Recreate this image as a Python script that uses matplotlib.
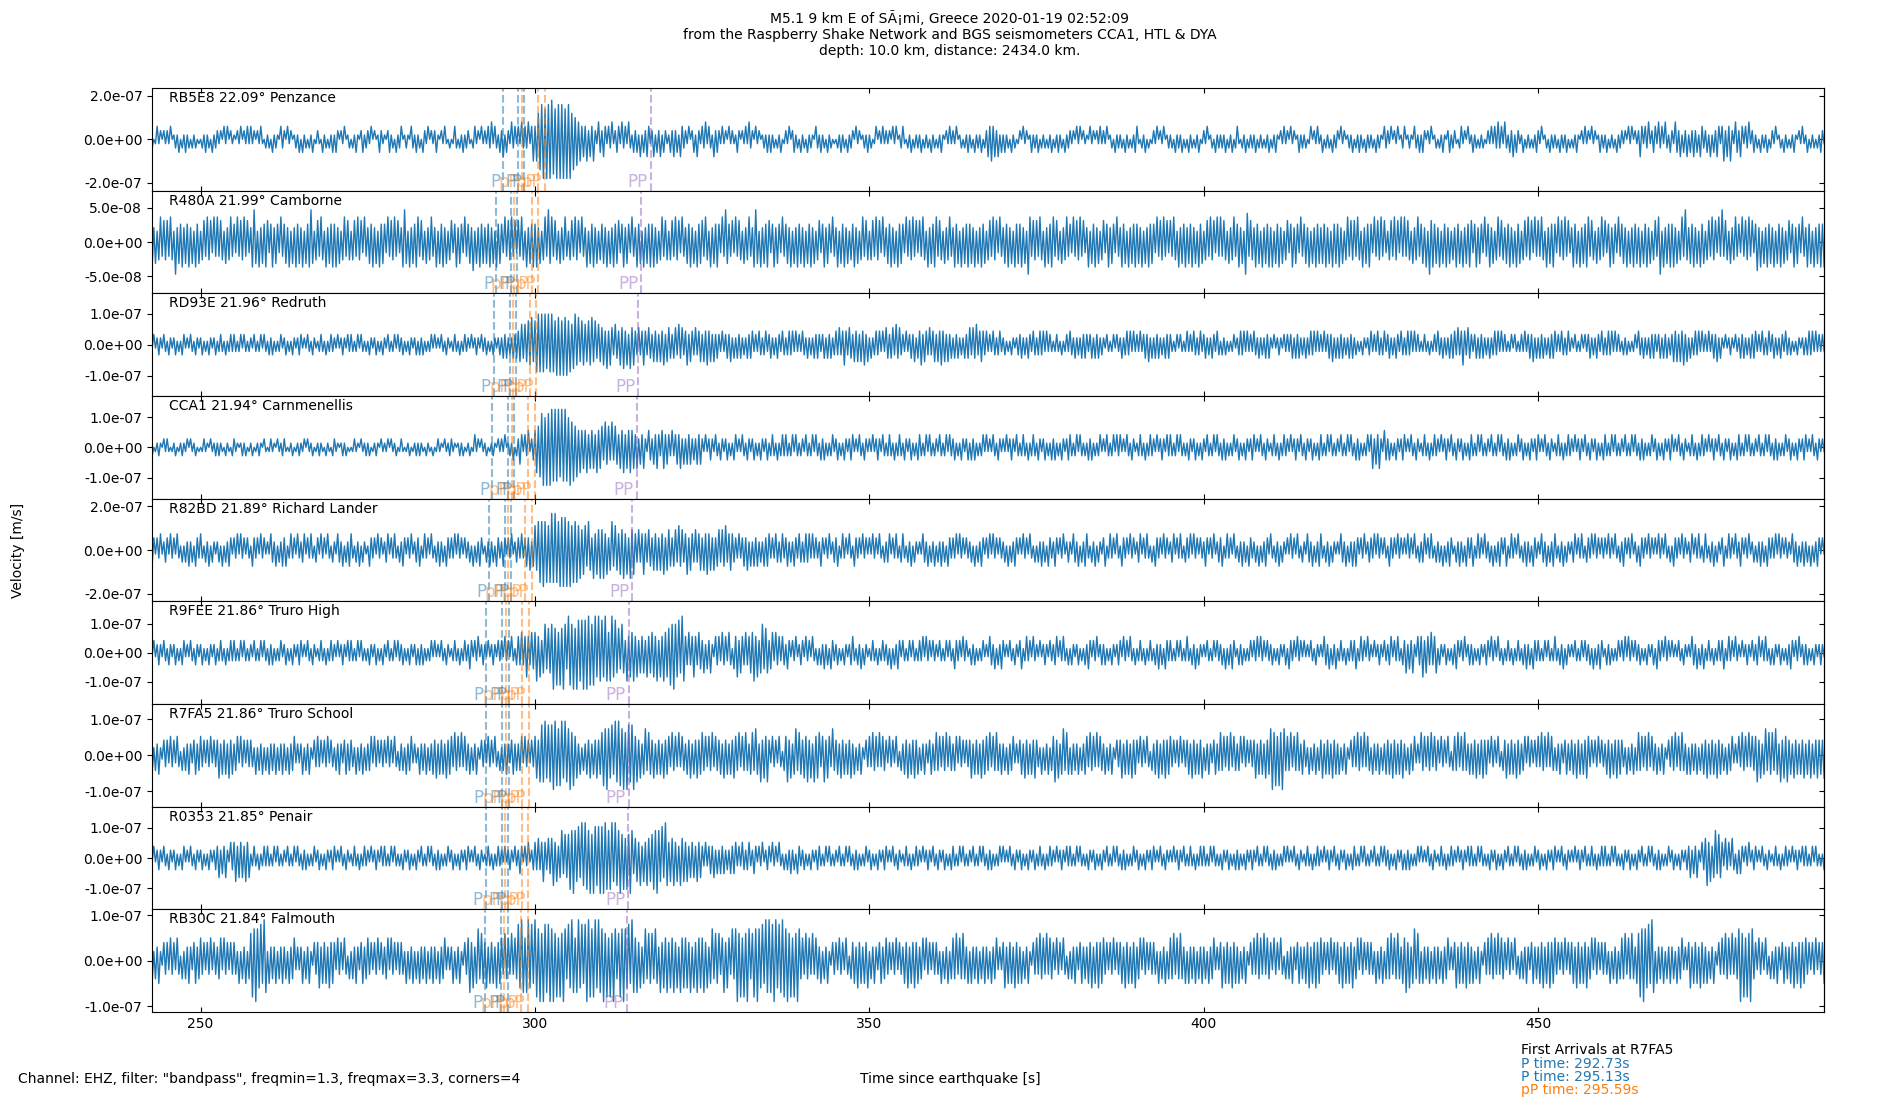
import numpy as np
import matplotlib
matplotlib.use('Agg')
import matplotlib.pyplot as plt
from matplotlib.ticker import FormatStrFormatter

# ---- stations, top to bottom ----
stations = ['RB5E8', 'R480A', 'RD93E', 'CCA1', 'R82BD', 'R9FEE', 'R7FA5', 'R0353', 'RB30C']
distances = [22.09, 21.99, 21.96, 21.94, 21.89, 21.86, 21.86, 21.85, 21.84]
places = ['Penzance', 'Camborne', 'Redruth', 'Carnmenellis', 'Richard Lander',
          'Truro High', 'Truro School', 'Penair', 'Falmouth']

# y range (+/-) and tick step of every panel [m/s]
ylims = [2.36e-7, 7.46e-8, 1.66e-7, 1.70e-7, 2.34e-7, 1.77e-7, 1.42e-7, 1.70e-7, 1.13e-7]
ysteps = [2e-7, 5e-8, 1e-7, 1e-7, 2e-7, 1e-7, 1e-7, 1e-7, 1e-7]

# theoretical arrivals [s since origin] for each station
phase_names = ['P', 'P', 'pP', 'P', 'pP', 'pP', 'PP']
arr_RB5E8 = [295.2, 297.5, 298.0, 298.4, 300.5, 301.5, 317.3]
arr_R480A = [294.2, 296.4, 296.9, 297.3, 299.5, 300.5, 315.9]
arr_RD93E = [293.8, 296.2, 296.7, 297.1, 299.2, 300.2, 315.4]
arr_CCA1 = [293.6, 296.0, 296.5, 296.9, 299.0, 300.0, 315.2]
arr_R82BD = [293.1, 295.5, 296.0, 296.4, 298.5, 299.5, 314.5]
arr_R9FEE = [292.73, 295.13, 295.59, 296.1, 298.1, 299.1, 314.0]
arr_R7FA5 = [292.73, 295.13, 295.59, 296.1, 298.1, 299.1, 314.0]
arr_R0353 = [292.6, 295.0, 295.5, 296.0, 298.0, 299.0, 313.9]
arr_RB30C = [292.5, 294.9, 295.4, 295.9, 297.9, 298.9, 313.7]
arrivals = [arr_RB5E8, arr_R480A, arr_RD93E, arr_CCA1, arr_R82BD,
            arr_R9FEE, arr_R7FA5, arr_R0353, arr_RB30C]

# waveforms: size of successive peaks/troughs, one every 0.25 s
# from t_start, one digit each, in multiples of the panel's unit. one line = 25 s
t_start = 242.5
dt = 0.25
units = [2.0e-8, 0.52e-8, 1.1e-8, 1.4e-8, 1.85e-8, 1.4e-8, 1.05e-8, 1.3e-8, 1.0e-8]

wf_RB5E8 = ("1201312021 2130121302 1312021201 0213120312 2120313021 1021302131 3120213102 1203121032 2031201213 0312021301"
            "2103120213 1320213012 0213102312 2130201321 1023120312 3012103213 1203213021 2310213102 0132021312 2102312031"
            "2132413213 2413214231 3142324135 3567897989 9879898979 8967564534 3524352143 2431324123 3142314213 2314132431"
            "2413241321 1324231432 2130231421 3241321423 2131203121 1320213142 2031201213 1312021301 2130231203 1203121032"
            "1312031201 0213120312 2031201213 1201302131 2120313012 3102130212 1302120312 0213102131 2130120213 1203121302"
            "2435342413 1312031201 2031201312 1302120213 0213120312 2120313021 1031202131 2130120312 1203120213 3102130201"
            "2130213012 1203121302 0312021301 2130120312 1213021302 3102130212 1302120213 0213102131 2031201312 1201302131"
            "1302120312 2031201213 0213120312 1203121032 2130213012 3012103213 1320213012 0213102312 2102312031 1312021201"
            "2131324231 4213241321 1302120213 2130120312 1203121302 0213102131 2031201312 1302120312 2120313021 2431324123"
            "3142314213 2143241324 1324231432 2314132431 3524352143 2431324123 1203121302 2130120312 0213102131 1302120213 2130")
wf_R480A = ("5746357465 6475394657 4657463756 3564756374 7465364574 5374657463 4796374657 6357465374 5647364756 4736579635"
            "6475374657 5746357465 3564756374 4657463756 5374657463 4796374657 7465364574 4736574635 6357465374 5648364756"
            "4657463756 5374657463 6475374657 5746357496 7465364574 3564756374 4736574635 5647364756 6357465374 4756374657"
            "5746357465 3564756374 4657463756 6475374657 5374965463 7465364574 4796374657 6357465374 5647364756 4736574635"
            "6357465374 4736574635 5746357465 3564756374 4657463756 5374657463 6475374657 7465364574 4756374657 5647364756"
            "3564756374 4657463756 5746397465 6475374657 7465364574 5374657463 4736574635 6357465374 4756374657 5647364756"
            "5374657463 6475374657 4657463756 3564756374 7465364574 5746398465 4756374657 4736574635 6357465374 5647364756"
            "4657463756 5746357465 6475374657 5374657463 3564756374 7465364574 5647396756 4736574635 4756374657 6357465374"
            "5746357465 4657463756 3564756374 6475374657 5374657463 4756374657 7465364574 6357465374 5647364756 4736574635"
            "6479374657 5746357495 4657463756 3564756374 9465364574 5374657463 5847364756 4736574635 6357465374 4756374657 5746")
wf_RD93E = ("2131232132 1321231213 3121321321 2312132123 1232131232 3212313212 2132123132 1323121231 2312132123 3121321321"
            "1232131232 2131232132 3212313212 1321231213 2132123132 2312132123 1323121231 3121321321 1232131232 2131232132"
            "2312132123 2434232434 4564657685 7898989798 9879897989 7867968576 6576857465 5647465364 4657463756 4353464354"
            "3545354635 5434536453 4635435345 3546453534 3242343524 2434232434 4232432342 3423243243 2343424232 4324232434"
            "3234243423 4353464354 3545354635 2423434242 5434536453 3242343524 4635435345 3546453534 2434232434 5354634543"
            "4232432342 2312132123 3423243243 2343424232 1232131232 4324232434 3234243423 2132123132 2423434242 3242343524"
            "2434232434 3212313212 4232432342 3423243243 1323121231 2343424232 4324232434 2131232132 3234243423 2423434242"
            "3242343524 2434232434 2312132123 4232432342 3423243243 2343424232 1232131232 4324232434 4353464354 3234243423"
            "2423434242 3212313212 3242343524 2434232434 4232432342 2132123132 3423243243 2343424232 1323121231 4324232434"
            "3234243423 3545354635 2423434242 3242343524 2131232132 2434232434 4232432342 3423243243 2312132123 2343424232 3242")
wf_CCA1 = ("1201121021 2101120112 1120211201 0121102112 1211021102 2110121201 1201121021 0121102112 2101120112 1120211201"
           "1211021102 2110121201 0121102112 1201121021 1120211201 2101120112 1211021102 0121102112 2110121201 1201312021"
           "1201121021 2130121302 2431324123 4657897989 9898979898 7968574645 4635453645 5364536354 3546354645 3524352143"
           "2435324534 3242343524 2434232434 2131232132 1321231213 3121321321 2312132123 1232131232 3212313212 2132123132"
           "1323121231 2312132123 3121321321 2131232132 1232131232 1321231213 3212313212 2132123132 2312132123 1323121231"
           "3121321321 2131232132 1232131232 1321231213 2312132123 3212313212 1323121231 2132123132 3121321321 1232131232"
           "2131232132 3212313212 1321231213 2132123132 1323121231 2312132123 3121321321 1232131232 2131232132 1321231213"
           "3212313212 2132123132 1323121231 3524352143 2312132123 3121321321 1232131232 2131232132 1321231213 3212313212"
           "2132123132 1323121231 2312132123 3121321321 1232131232 2131232132 1321231213 3212313212 2132123132 1323121231"
           "2312132123 3121321321 1232131232 2131232132 1321231213 3212313212 2132123132 1323121231 2312132123 3121321321 2131")
wf_R82BD = ("2431324123 3142314213 1324231432 4213241321 2314132431 3241423132 1432314231 2143241324 3412423142 2341324213"
            "3142314213 2143241324 4213241321 1432314231 2341324213 2431324123 3412423142 1324231432 3241423132 2314132431"
            "1324231432 2431324123 3242343524 6578797868 9898798989 7968786756 6475374657 5746357465 4657463756 4353464354"
            "3545354635 5434536453 4635435345 3546453534 5354634543 3242343524 2434232434 4232432342 3423243243 2343424232"
            "2431324123 3412423142 1432314231 3142314213 2341324213 4213241321 2143241324 1324231432 3241423132 2314132431"
            "3241423132 2314132431 3142314213 1324231432 2431324123 2143241324 4213241321 3412423142 1432314231 2341324213"
            "1432314231 2341324213 3241423132 2431324123 3412423142 1324231432 2314132431 4213241321 3142314213 2143241324"
            "4213241321 2143241324 2431324123 3241423132 1432314231 3142314213 2341324213 2314132431 1324231432 3412423142"
            "2314132431 3412423142 1324231432 2143241324 4213241321 2341324213 3241423132 3142314213 2431324123 1432314231"
            "3142314213 1432314231 2341324213 4213241321 3412423142 2431324123 1324231432 3241423132 2143241324 2314132431 3142")
wf_R9FEE = ("2131232132 1321231213 3121321321 2312132123 1232131232 3212313212 2132123132 1323121231 2312132123 3121321321"
            "1232131232 2131232132 3212313212 1321231213 2132123132 2312132123 1323121231 3121321321 1232131232 2431324123"
            "2131232132 3142314213 4353464354 5746357465 7968586974 9879698789 8998789697 8697579685 6475374657 4635453645"
            "5647364756 6879768597 4353464354 3524352143 4253425314 4635435345 5746357465 3452534243 2431324123 3142314213"
            "1324231432 2312132123 4213241321 1232131232 2314132431 3212313212 3241423132 2132123132 1432314231 1323121231"
            "2143241324 3121321321 3412423142 2131232132 2341324213 1321231213 2431324123 2312132123 3142314213 1232131232"
            "1324231432 3212313212 4213241321 2132123132 2314132431 1323121231 3241423132 2312132123 1432314231 3121321321"
            "2143241324 1232131232 3412423142 2131232132 2341324213 3524352143 4635435345 1321231213 2431324123 2312132123"
            "3142314213 1232131232 1324231432 3212313212 4213241321 2132123132 2314132431 1323121231 3241423132 2312132123"
            "1432314231 3121321321 2143241324 1232131232 3412423142 2131232132 2341324213 1321231213 2431324123 2312132123 2132")
wf_R7FA5 = ("3524352143 4253425314 2435324534 5342435243 4635453645 3452534243 4325243524 2534352435 3425345232 3524352143"
            "5342435243 2435324534 4325243524 3452534243 4253425314 3425345232 2534352435 4635453645 5364536354 3524352143"
            "4253425314 2435324534 3452534243 5647879687 8998789697 7968563524 3546354645 6879768597 9879698789 5746357465"
            "4635453645 5364536354 3546354645 6453546354 4536453546 5463546435 6475374657 4253425314 5746357465 4657463756"
            "6357465374 4536453546 3524352143 5364536354 4253425314 3546354645 2435324534 6453546354 3452534243 4635453645"
            "5463546435 3425345232 4536453546 4325243524 5746357465 2534352435 5364536354 3524352143 4635453645 4253425314"
            "3546354645 5342435243 4536453546 2435324534 6453546354 3452534243 4635453645 7968586974 5463546435 4325243524"
            "4635453645 3524352143 5364536354 2534352435 4536453546 3425345232 6453546354 4253425314 5463546435 3546354645"
            "4253425314 4635453645 3452534243 5364536354 2435324534 4536453546 5342435243 3546354645 4325243524 6453546354"
            "3524352143 5463546435 2534352435 4635453645 3425345232 5364536354 5746357465 6475374657 4536453546 3546354645 4635")
wf_R0353 = ("2131232132 1321231213 3121321321 2312132123 3524352143 4635453645 1232131232 3212313212 2132123132 1323121231"
            "2312132123 3121321321 1232131232 2131232132 3212313212 1321231213 2132123132 1323121231 2312132123 3121321321"
            "1232131232 2131232132 2431324123 4353464354 5746357465 6879768597 9879698789 8998789697 7968586974 5647364756"
            "6879768597 4657463756 4635453645 3242343524 2434232434 4232432342 2431324123 3142314213 1324231432 2312132123"
            "3212313212 2132123132 1323121231 2312132123 3121321321 1232131232 2131232132 1321231213 3212313212 2132123132"
            "1323121231 3121321321 2312132123 1232131232 2131232132 3212313212 1321231213 2132123132 1323121231 2312132123"
            "3121321321 2131232132 1232131232 3212313212 1321231213 2312132123 2132123132 1323121231 3121321321 1232131232"
            "2131232132 1321231213 3212313212 2132123132 2312132123 1323121231 3121321321 1232131232 2131232132 3212313212"
            "1321231213 2132123132 1323121231 2312132123 3121321321 2131232132 1232131232 3212313212 1321231213 2132123132"
            "1323121231 2312132123 3524352143 5746357465 4253425314 2431324123 3121321321 1232131232 2131232132 3212313212 1321")
wf_RB30C = ("3524352143 4253425314 2435324534 5342435243 3452534243 4325243524 6879768597 2534352435 3425345232 3524352143"
            "4635453645 4253425314 2435324534 5342435243 3452534243 4325243524 2534352435 3425345232 3524352143 5746357465"
            "4635453645 5364536354 8697579685 9879698789 7968586974 8697579685 8998789697 7968586974 6879768597 5746357465"
            "6475374657 4657463756 5647364756 5746357465 6357465374 7968586974 6879768597 9789968798 7968586974 5364536354"
            "3524352143 4253425314 4536453546 2435324534 5342435243 3546354645 3452534243 4325243524 5463546435 2534352435"
            "3425345232 4635453645 3524352143 5364536354 4253425314 2435324534 3546354645 5342435243 4536453546 3452534243"
            "4325243524 5463546435 2534352435 3425345232 4635453645 3524352143 5364536354 4253425314 2435324534 3546354645"
            "5342435243 4536453546 3452534243 4325243524 5463546435 5746357465 2534352435 3425345232 4635453645 3524352143"
            "5364536354 4253425314 2435324534 3546354645 5342435243 4536453546 3452534243 4325243524 5463546435 6879768597"
            "2534352435 3425345232 4635453645 3524352143 5364536354 7968586974 4253425314 2435324534 3546354645 5342435243 4536")
waveforms = [wf_RB5E8, wf_R480A, wf_RD93E, wf_CCA1, wf_R82BD,
             wf_R9FEE, wf_R7FA5, wf_R0353, wf_RB30C]

phase_colors = {'P': 'C0', 'pP': 'C1', 'PP': 'C4'}
xlim = (242.73, 492.73)

#------------------------
fig, axs = plt.subplots(9, 1, sharex=True, figsize=(19, 11), dpi=100)
fig.subplots_adjust(left=0.08, right=0.96, top=0.92, bottom=0.08, hspace=0)

for i, ax in enumerate(axs):
    digits = waveforms[i].replace(' ', '')
    amp = np.array([int(c) for c in digits]) * units[i]
    sign = np.where(np.arange(len(amp)) % 2 == 0, 1.0, -1.0)   # peak, trough, peak ...
    t = t_start + dt * np.arange(len(amp))
    ax.plot(t, amp * sign, color='C0', lw=1)

    for name, ta in zip(phase_names, arrivals[i]):
        c = phase_colors[name]
        ax.axvline(ta, ls='--', color=c, alpha=0.5, lw=1.5)
        ax.text(ta - 0.4, -ylims[i], name, color=c, alpha=0.5, ha='right', va='bottom', fontsize=12)

    ax.text(0.01, 0.97, '%s %.2f° %s' % (stations[i], distances[i], places[i]),
            transform=ax.transAxes, ha='left', va='top', fontsize=10)

    ax.set_xlim(xlim)
    ax.set_ylim(-ylims[i], ylims[i])
    yt = [-ysteps[i], 0, ysteps[i]]
    ax.set_yticks(yt)
    ax.yaxis.set_major_formatter(FormatStrFormatter('%.1e'))
    ax.tick_params(axis='x', direction='in', top=True, bottom=True)
    ax.tick_params(axis='y', direction='out', left=True, right=False)
    sec = ax.secondary_yaxis('right')
    sec.set_yticks(yt)
    sec.tick_params(axis='y', direction='in', labelright=False, labelleft=False)

axs[-1].set_xticks([250, 300, 350, 400, 450])

fig.suptitle('M5.1 9 km E of SÃ¡mi, Greece 2020-01-19 02:52:09\n'
             'from the Raspberry Shake Network and BGS seismometers CCA1, HTL & DYA\n'
             'depth: 10.0 km, distance: 2434.0 km.', fontsize=10, y=0.99)
fig.text(0.0095, 0.5, 'Velocity [m/s]', rotation=90, ha='center', va='center', fontsize=10)
fig.text(0.0095, 0.019, 'Channel: EHZ, filter: "bandpass", freqmin=1.3, freqmax=3.3, corners=4',
         ha='left', va='center', fontsize=10)
fig.text(0.5, 0.019, 'Time since earthquake [s]', ha='center', va='center', fontsize=10)

fig.text(0.8005, 0.0455, 'First Arrivals at R7FA5', ha='left', va='center', fontsize=10)
fig.text(0.8005, 0.0330, 'P time: 292.73s', color='C0', ha='left', va='center', fontsize=10)
fig.text(0.8005, 0.0210, 'P time: 295.13s', color='C0', ha='left', va='center', fontsize=10)
fig.text(0.8005, 0.0090, 'pP time: 295.59s', color='C1', ha='left', va='center', fontsize=10)

plt.savefig('out.png', dpi=100)
